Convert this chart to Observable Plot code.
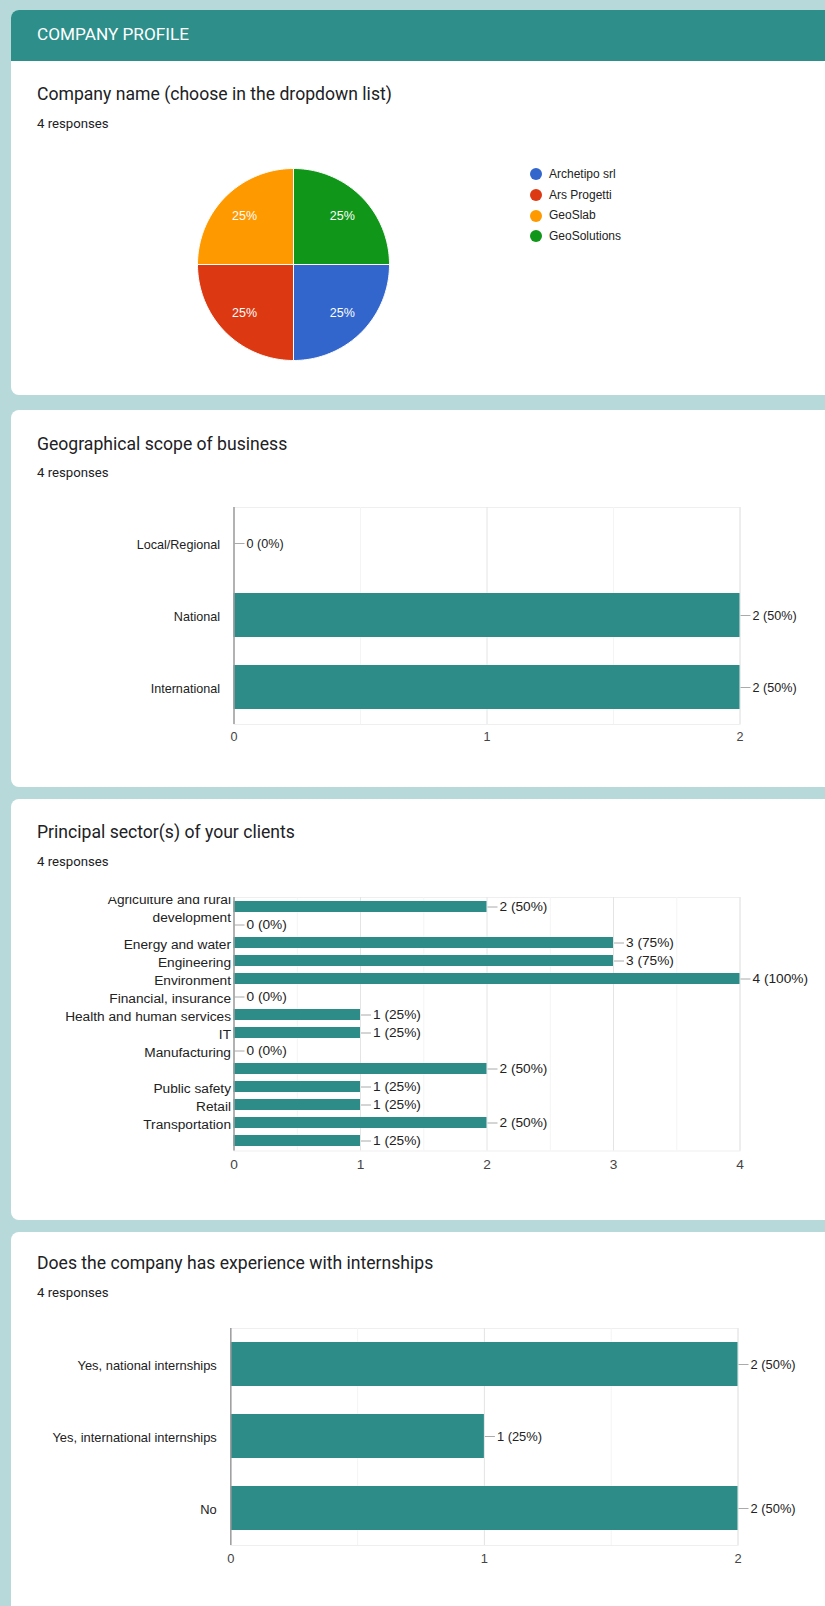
<!DOCTYPE html>
<html>
<head>
<meta charset="utf-8">
<script src="https://cdn.jsdelivr.net/npm/d3@7"></script>
<script src="https://cdn.jsdelivr.net/npm/@observablehq/plot@0.6"></script>
<style>
  html, body { margin: 0; padding: 0; }
  body { width: 825px; height: 1606px; overflow: hidden; background: #b7d9da; position: relative; font-family: Roboto, "Noto Sans", sans-serif; color: #202124; }
  .card { position: absolute; left: 11px; right: -20px; background: #fff; border-radius: 8px; }
  .header { position: absolute; left: 11px; right: -20px; top: 10px; height: 51px; background: #2d8e8a; border-radius: 8px 8px 0 0; }
  .htext { position: absolute; left: 37px; top: 23px; line-height: 22px; font-size: 17.2px; font-weight: 400; color: #fff; }
  .title { position: absolute; left: 37px; font-size: 17.6px; line-height: 22px; color: #202124; white-space: nowrap; }
  .resp { position: absolute; left: 37px; font-size: 13.2px; line-height: 16px; font-weight: 400; color: #202124; }
  .abs { position: absolute; }
  .legend { position: absolute; left: 530px; top: 164px; font-family: "Liberation Sans", Arial, sans-serif; font-size: 12px; color: #222; }
  .legend div { height: 20.7px; line-height: 20.7px; display: flex; align-items: center; }
  .legend span.sw { display: inline-block; width: 12px; height: 12px; border-radius: 50%; margin-right: 7px; }
</style>
</head>
<body>
<script>
// ---------- data ----------
const responses = 4;

const companies = ["Archetipo srl", "Ars Progetti", "GeoSlab", "GeoSolutions"];
const companyCounts = [1, 1, 1, 1];
const companyColors = ["#3366cc", "#dc3912", "#ff9900", "#109618"];

const scopeLabels = ["Local/Regional", "National", "International"];
const scopeCounts = [0, 2, 2];

const sectorLabels = ["Agriculture and rural\ndevelopment", "", "Energy and water", "Engineering", "Environment",
  "Financial, insurance", "Health and human services", "IT", "Manufacturing", "", "Public safety", "Retail",
  "Transportation", ""];
const sectorCounts = [2, 0, 3, 3, 4, 0, 1, 1, 0, 2, 1, 1, 2, 1];

const internLabels = ["Yes, national internships", "Yes, international internships", "No"];
const internCounts = [2, 1, 2];

const titles = ["Company name (choose in the dropdown list)", "Geographical scope of business",
  "Principal sector(s) of your clients", "Does the company has experience with internships"];

// ---------- page frame ----------
function el(tag, cls, css, text) {
  const e = document.createElement(tag);
  if (cls) e.className = cls;
  if (css) Object.assign(e.style, css);
  if (text != null) e.textContent = text;
  document.body.appendChild(e);
  return e;
}
const cards = [[10, 395], [410, 787], [799, 1220], [1232, 1640]];
cards.forEach(([t, b]) => el("div", "card", {top: t + "px", height: (b - t) + "px"}));
el("div", "header");
el("div", "htext", null, "COMPANY PROFILE");
const titleY = [94, 444, 832, 1263];
const respY = [124, 473, 862, 1293];
titles.forEach((t, i) => {
  el("div", "title", {top: (titleY[i] - 11) + "px"}, t);
  el("div", "resp", {top: (respY[i] - 8) + "px"}, responses + " responses");
});

const TEAL = "#2d8c88";
const chartFont = '"Liberation Sans", Arial, sans-serif';

// ---------- pie ----------
{
  const total = d3.sum(companyCounts);
  const pts = [];
  const labels = [];
  let a0 = Math.PI / 2; // start at 3 o'clock, clockwise
  companies.forEach((c, i) => {
    const span = companyCounts[i] / total * 2 * Math.PI;
    const a1 = a0 + span;
    pts.push({c, x: 0, y: 0});
    const n = 90;
    for (let k = 0; k <= n; k++) {
      const a = a0 + (a1 - a0) * k / n;
      pts.push({c, x: Math.sin(a), y: Math.cos(a)});
    }
    pts.push({c, x: 0, y: 0});
    const m = (a0 + a1) / 2;
    labels.push({c, x: 0.72 * Math.sin(m), y: 0.72 * Math.cos(m), t: Math.round(companyCounts[i] / total * 100) + "%"});
    a0 = a1;
  });
  const pie = Plot.plot({
    width: 200, height: 200, margin: 4,
    x: {domain: [-1, 1], axis: null},
    y: {domain: [-1, 1], axis: null},
    color: {domain: companies, range: companyColors},
    style: {background: "transparent", fontFamily: chartFont, fontSize: "12.5px", overflow: "visible"},
    marks: [
      Plot.line(pts, {x: "x", y: "y", z: "c", fill: "c", stroke: "#fff", strokeWidth: 1, curve: "linear"}),
      Plot.text(labels, {x: "x", y: "y", text: "t", fill: "#fff"})
    ]
  });
  const w = el("div", "abs", {left: "193px", top: "164px"});
  w.appendChild(pie);

  const lg = el("div", "legend");
  companies.forEach((c, i) => {
    const row = document.createElement("div");
    const sw = document.createElement("span");
    sw.className = "sw";
    sw.style.background = companyColors[i];
    row.appendChild(sw);
    row.appendChild(document.createTextNode(c));
    lg.appendChild(row);
  });
}

// ---------- bar charts ----------
function barChart({labels, counts, max, xLeft, xRight, yTop, yBottom, labelPad, fontSize, clip}) {
  const rows = labels.map((l, i) => ({i, label: l, v: counts[i]}));
  const mt = clip ? 0 : 10;
  const mb = 30;
  const plot = Plot.plot({
    width: 825,
    height: (yBottom - yTop) + mt + mb,
    marginLeft: xLeft, marginRight: 825 - xRight, marginTop: mt, marginBottom: mb,
    x: {domain: [0, max]},
    y: {type: "band", domain: rows.map(d => d.i), paddingInner: 0.382, paddingOuter: 0.191, axis: null},
    style: {background: "transparent", fontFamily: chartFont, fontSize: fontSize + "px", color: "#333", overflow: "visible"},
    marks: [
      Plot.frame({stroke: "#efefef"}),
      Plot.ruleX(d3.range(0, max + 1e-9, 0.5), {stroke: d => (d % 1 ? "#f4f4f4" : "#e4e4e4")}),
      Plot.barX(rows, {x: "v", y: "i", fill: TEAL}),
      Plot.ruleY(rows, {y: "i", x1: "v", x2: "v", insetLeft: 1, insetRight: -11, stroke: "#aaa"}),
      Plot.text(rows, {x: "v", y: "i", text: d => `${d.v} (${Math.round(d.v / responses * 100)}%)`, dx: 12.5, textAnchor: "start", fill: "#222"}),
      Plot.text(rows, {x: 0, y: "i", text: "label", textAnchor: "end", dx: -labelPad, fill: "#222", lineHeight: 1.3}),
      Plot.ruleX([0], {stroke: "#9e9e9e", strokeWidth: 1.5}),
      Plot.axisX({ticks: d3.range(0, max + 1), tickSize: 0, tickPadding: 8, tickFormat: d3.format("d"), label: null, fill: "#444"})
    ]
  });
  const wrap = el("div", "abs", {left: "0px", top: (yTop - mt) + "px", width: "825px"});
  if (clip) { wrap.style.overflow = "hidden"; wrap.style.height = ((yBottom - yTop) + mb) + "px"; }
  wrap.appendChild(plot);
}

barChart({labels: scopeLabels, counts: scopeCounts, max: 2, xLeft: 233.5, xRight: 739.5, yTop: 507, yBottom: 724, labelPad: 14, fontSize: 12.6});
barChart({labels: sectorLabels, counts: sectorCounts, max: 4, xLeft: 233.5, xRight: 739.5, yTop: 896.5, yBottom: 1150, labelPad: 3, fontSize: 13.7, clip: true});
barChart({labels: internLabels, counts: internCounts, max: 2, xLeft: 230.3, xRight: 737.5, yTop: 1328, yBottom: 1545, labelPad: 14, fontSize: 12.9});
</script>
</body>
</html>
